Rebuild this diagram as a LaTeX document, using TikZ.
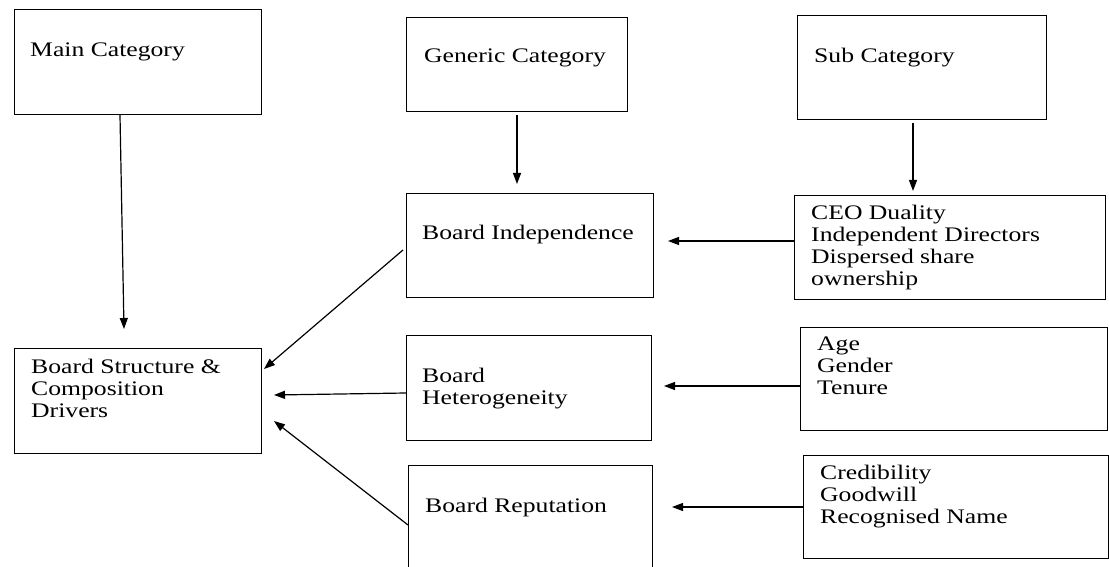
\documentclass[tikz,border=0pt]{standalone}
\usepackage{fontspec}
\setmainfont[FakeStretch=1.24]{Liberation Serif}
\usetikzlibrary{arrows.meta}
\begin{document}
\begin{tikzpicture}[x=1pt,y=-1pt,
  box/.style={draw, line width=1.2pt, inner sep=0pt, anchor=north west},
  txt/.style={anchor=base west, inner sep=0pt, align=left, font=\fontsize{20.7}{22}\selectfont},
  arr/.style={line width=1.2pt, -{Triangle[length=11pt,width=8pt]}}]
\useasboundingbox (0,0) rectangle (1109,567);
% boxes
\node[box, minimum width=247pt, minimum height=105pt] (main) at (14,9) {};
\node[box, minimum width=221pt, minimum height=94pt] (gen) at (406,17) {};
\node[box, minimum width=249pt, minimum height=104pt] (sub) at (797,15) {};
\node[box, minimum width=247pt, minimum height=104pt] (bi) at (406,193) {};
\node[box, minimum width=311pt, minimum height=104pt] (ceo) at (794,195) {};
\node[box, minimum width=245pt, minimum height=105pt] (bh) at (406,335) {};
\node[box, minimum width=307pt, minimum height=103pt] (age) at (800,327) {};
\node[box, minimum width=247pt, minimum height=105pt] (bs) at (14,348) {};
\node[box, minimum width=244pt, minimum height=110pt] (br) at (408,465) {};
\node[box, minimum width=305pt, minimum height=103pt] (cred) at (803,455) {};
% texts (multi-line nodes are placed by the baseline of their last line)
\node[txt] (tmain) at (30,57) {Main Category};
\node[txt] (tgen) at (424,63) {Generic Category};
\node[txt] (tsub) at (814,63) {Sub Category};
\node[txt] (tbi) at (422,239) {Board Independence};
\node[txt] (tceo) at (811,285) {CEO Duality\\Independent Directors\\Dispersed share\\ownership};
\node[txt] (tbh) at (422,404) {Board\\Heterogeneity};
\node[txt] (tage) at (817,394) {Age\\Gender\\Tenure};
\node[txt] (tbs) at (31,417) {Board Structure \&\\Composition\\Drivers};
\node[txt] (tbr) at (425,512) {Board Reputation};
\node[txt] (tcred) at (820,523) {Credibility\\Goodwill\\Recognised Name};
% arrow tip coordinates
\coordinate (tipmain) at (124,329);
\coordinate (tipgen) at (517,184);
\coordinate (tipsub) at (913,191);
\coordinate (tipbi) at (668,241);
\coordinate (tipbh) at (664,386);
\coordinate (tipbr) at (672,507);
\coordinate (tipbs1) at (264,369);
\coordinate (tipbs2) at (274,395);
\coordinate (tipbs3) at (274,421);
% connectors
\draw[arr] ([xshift=106pt]main.south west) -- (tipmain);
\draw[arr] ([xshift=111pt,yshift=-3pt]gen.south west) -- (tipgen);
\draw[arr] ([xshift=116pt,yshift=-3pt]sub.south west) -- (tipsub);
\draw[arr] ([yshift=-46pt]ceo.north west) -- (tipbi);
\draw[arr] ([yshift=-59pt]age.north west) -- (tipbh);
\draw[arr] ([yshift=-52pt]cred.north west) -- (tipbr);
\draw[arr] ([xshift=-3pt,yshift=-57pt]bi.north west) -- (tipbs1);
\draw[arr] ([yshift=-58pt]bh.north west) -- (tipbs2);
\draw[arr] ([yshift=-60pt]br.north west) -- (tipbs3);
\end{tikzpicture}
\end{document}
